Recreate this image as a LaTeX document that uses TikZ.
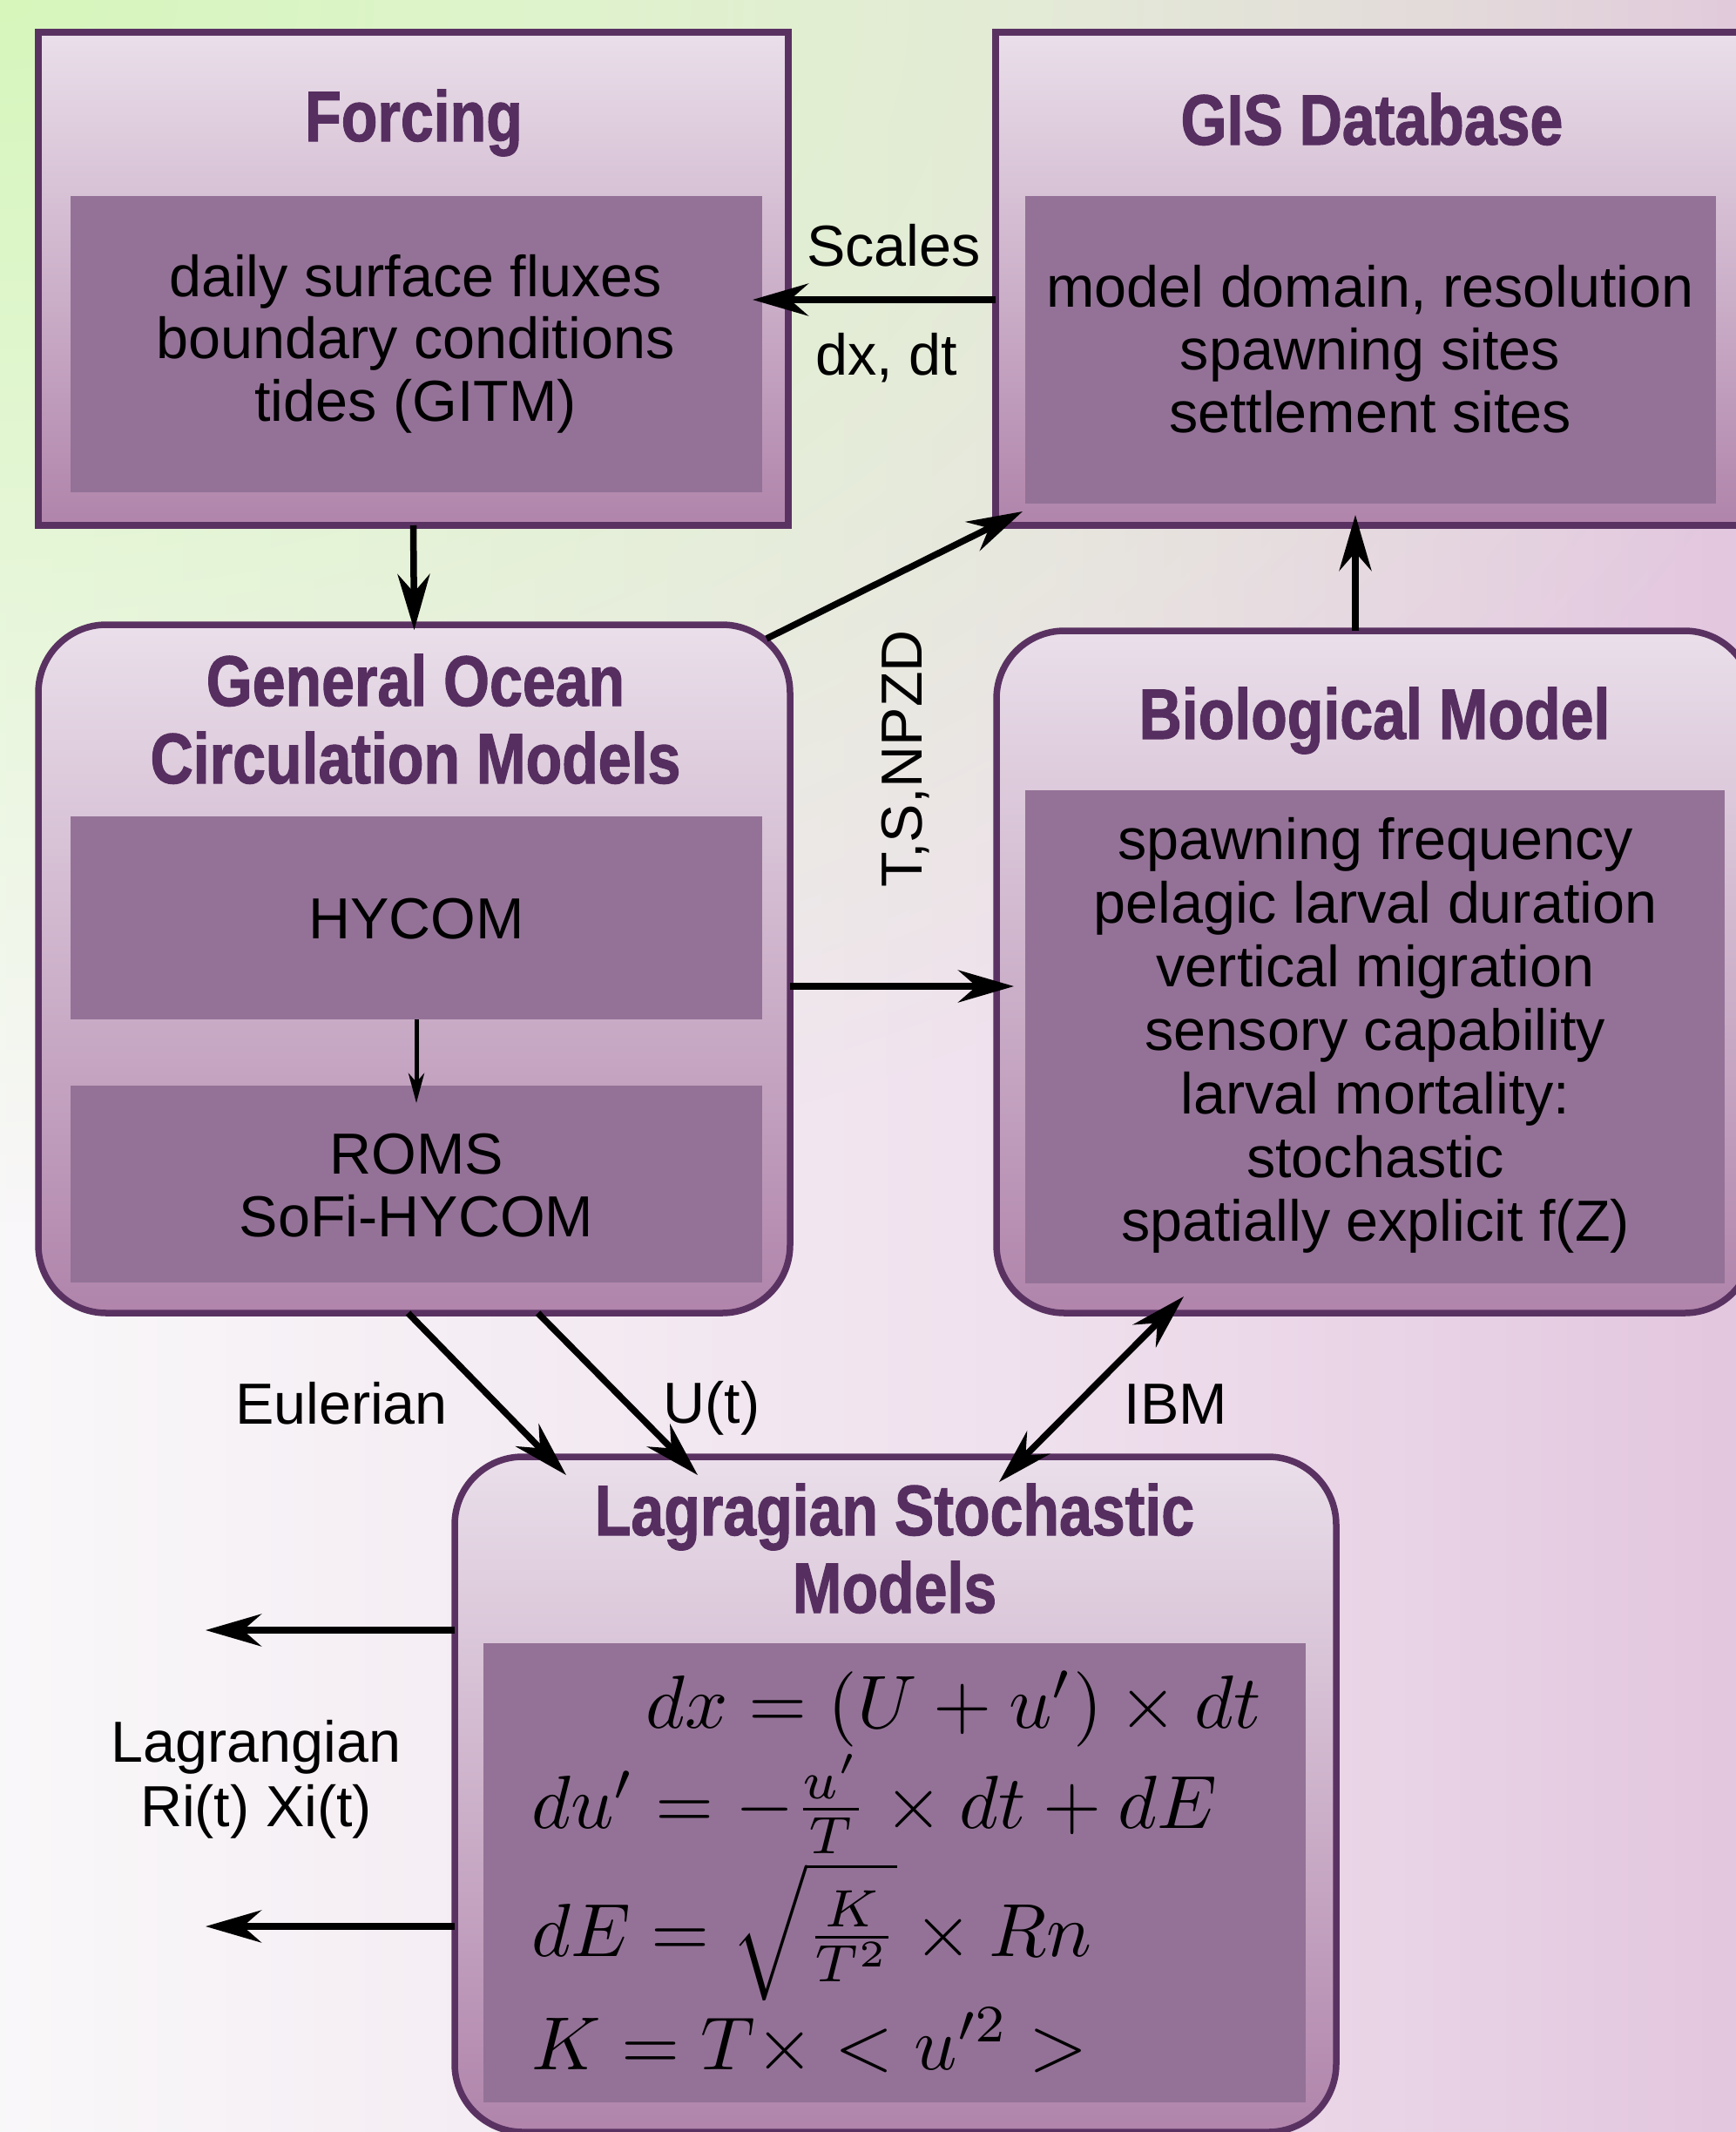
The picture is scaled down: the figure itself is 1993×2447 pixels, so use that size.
\documentclass[tikz,border=0pt]{standalone}
\usepackage{graphicx}
\usepackage[no-math]{fontspec}
\setmainfont{Liberation Sans}
\newfontfamily\titlefont[FakeStretch=0.83, BoldFeatures={FakeBold=1.3}]{Liberation Sans}
\usetikzlibrary{arrows.meta,calc,fadings,shadings}

\definecolor{bord}{RGB}{90,50,98}
\definecolor{ttlc}{RGB}{86,46,96}
\definecolor{inbox}{RGB}{148,114,151}
\definecolor{boxtop}{RGB}{234,223,234}
\definecolor{boxbot}{RGB}{176,132,171}
\definecolor{bgL}{RGB}{250,250,250}
\definecolor{bgM}{RGB}{239,224,237}
\definecolor{bgR}{RGB}{211,166,205}
\definecolor{glowc}{RGB}{214,246,188}

\pgfdeclarehorizontalshading{bgshade}{100bp}{color(0bp)=(bgL); color(22bp)=(bgL); color(55bp)=(bgM); color(100bp)=(bgR)}
\tikzfading[name=glowfade, inner color=transparent!0, outer color=transparent!100]

\newcommand{\bigmath}[1]{\scalebox{8.64}{\fontsize{10}{12}\selectfont$#1$}}

\tikzset{
  outerbox/.style={draw=bord, line width=7.5pt, top color=boxtop, bottom color=boxbot, inner sep=0pt, outer sep=0pt},
  roundbox/.style={outerbox, rounded corners=78pt},
  innerbox/.style={fill=inbox, inner sep=0pt, outer sep=0pt},
  txt/.style={font=\fontsize{66.5}{73}\selectfont, inner sep=0pt, anchor=base},
  ttl/.style={font=\titlefont\bfseries\fontsize{82}{89}\selectfont, text=ttlc, inner sep=0pt, anchor=base},
  eqn/.style={inner sep=0pt, anchor=base west},
  arr/.style={line width=7.5pt, -{Stealth[length=64pt, width=37pt, inset=21pt]}},
  darr/.style={line width=7.5pt, {Stealth[length=64pt, width=37pt, inset=21pt]}-{Stealth[length=64pt, width=37pt, inset=21pt]}},
  sarr/.style={line width=5pt, -{Stealth[length=34pt, width=18pt, inset=10pt]}}
}

\begin{document}
\begin{tikzpicture}[x=1pt,y=-1pt]
\useasboundingbox (0,0) rectangle (1993,2447);
\begin{scope}
\clip (0,0) rectangle (1993,2447);
% background
\shade[shading=bgshade] (0,0) rectangle (1993,2447);
\fill[glowc, path fading=glowfade] (0,0) ellipse [x radius=2200pt, y radius=1400pt];

% Forcing
\node[outerbox, minimum width=861pt, minimum height=566pt] (forcing) at (474.5,320) {};
\node[innerbox, minimum width=794pt, minimum height=340pt] (forcingin) at (478,395) {};
\node[ttl] (forcingt) at (475,162) {Forcing};
\foreach \t [count=\i] in {daily surface fluxes, boundary conditions, tides (GITM)}
  \node[txt] (forcingl\i) at (477,{340+71.5*(\i-1)}) {\t};

% GIS
\node[outerbox, minimum width=897pt, minimum height=566pt] (gis) at (1591.5,320) {};
\node[innerbox, minimum width=793pt, minimum height=353pt] (gisin) at (1573.5,401.5) {};
\node[ttl] (gist) at (1575,166) {GIS Database};
\foreach \t [count=\i] in {{model domain, resolution}, spawning sites, settlement sites}
  \node[txt] (gisl\i) at (1573,{352+72*(\i-1)}) {\t};

% GOCM
\node[roundbox, minimum width=863pt, minimum height=790pt] (gocm) at (475.5,1112) {};
\node[innerbox, minimum width=794pt, minimum height=233pt] (hycom) at (478,1053.5) {};
\node[innerbox, minimum width=794pt, minimum height=226pt] (roms) at (478,1359) {};
\node[ttl] (gocmt1) at (477,810) {General Ocean};
\node[ttl] (gocmt2) at (477,899) {Circulation Models};
\node[txt] (hycomt) at (478,1077) {HYCOM};
\node[txt] (romst1) at (478,1347) {ROMS};
\node[txt] (romst2) at (478,1419) {SoFi-HYCOM};

% Biological model
\node[roundbox, minimum width=868pt, minimum height=783pt] (bio) at (1578,1115.5) {};
\node[innerbox, minimum width=803pt, minimum height=566pt] (bioin) at (1578.5,1190) {};
\node[ttl] (biot) at (1578,848) {Biological Model};
\foreach \t [count=\i] in {spawning frequency, pelagic larval duration, vertical migration, sensory capability, larval mortality:, stochastic, spatially explicit f(Z)}
  \node[txt] (biol\i) at (1579,{986+73*(\i-1)}) {\t};

% Lagrangian
\node[roundbox, minimum width=1012pt, minimum height=775pt] (lag) at (1028,2059.5) {};
\node[innerbox, minimum width=944pt, minimum height=527pt] (lagin) at (1027,2149.5) {};
\node[ttl] (lagt1) at (1027,1762) {Lagragian Stochastic};
\node[ttl] (lagt2) at (1027,1851) {Models};
\node[eqn] (eq1) at (741,1983) {\bigmath{dx = (U+u')\times dt}};
\node[eqn] (eq2) at (610,2098) {\bigmath{du' = -\frac{u'}{T}\times dt + dE}};
\node[eqn] (eq3) at (610,2245) {\bigmath{dE = \sqrt{\frac{K}{T^2}}\times Rn}};
\node[eqn] (eq4) at (610,2375) {\bigmath{K = T\times < u'^2 >}};

% labels
\node[txt] (scales) at (1026,305) {Scales};
\node[txt] (dxdt) at (1018,430) {dx, dt};
\node[txt, rotate=90] (tsnpzd) at (1058,871) {T,S,NPZD};
\node[txt] (euler) at (392,1634) {Eulerian};
\node[txt] (ut) at (817,1633) {U(t)};
\node[txt] (ibm) at (1350,1634) {IBM};
\node[txt] (lagr1) at (294,2022) {Lagrangian};
\node[txt] (lagr2) at (294,2096) {Ri(t) Xi(t)};

% connectors
\coordinate (sy) at (0,344);
\draw[arr] (gis.west |- sy) -- ($(forcingin.east |- sy)+(-11,0)$);
\draw[arr] (forcing.south) -- ($(gocm.north)+(0,6)$);
\draw[arr] ($(gocm.north east)+(-27,16)$) -- ($(gisin.south west)+(-3,9)$);
\coordinate (b2g) at ($(bio.north)+(-22,0)$);
\draw[arr] (b2g) -- ($(b2g |- gis.south)+(0,-12)$);
\coordinate (g2b) at ($(gocm.east)+(0,20)$);
\draw[arr] (g2b) -- ($(g2b -| bio.west)+(20,0)$);
\draw[sarr] (hycom.south) -- ($(roms.north)+(0,20)$);
\draw[arr] ($(gocm.south)+(-7,0)$) -- ($(lag.north west)+(128,21)$);
\draw[arr] ($(gocm.south)+(142,0)$) -- ($(lag.north west)+(279,21)$);
\draw[darr] ($(lag.north west)+(625,29)$) -- ($(bioin.south west)+(182,15)$);
\coordinate (out1) at (236,1871);
\coordinate (out2) at (236,2211);
\draw[arr] (lag.west |- out1) -- (out1);
\draw[arr] (lag.west |- out2) -- (out2);
\end{scope}
\end{tikzpicture}
\end{document}
